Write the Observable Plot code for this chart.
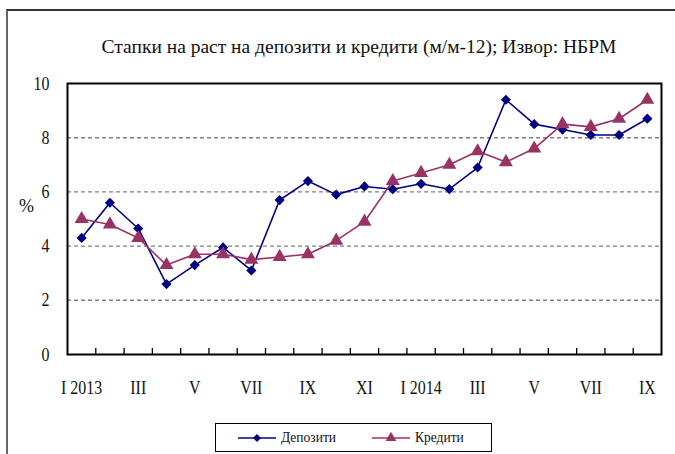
<!DOCTYPE html>
<html><head><meta charset="utf-8">
<script src="https://cdn.jsdelivr.net/npm/d3@7"></script>
<script src="https://cdn.jsdelivr.net/npm/@observablehq/plot@0.6"></script>
<style>
body{margin:0;background:#fff;}
#wrap{position:relative;width:675px;height:454px;font-family:"Liberation Serif",serif;overflow:hidden;background:#fff;}
#frame{position:absolute;left:6px;top:9px;width:700px;height:500px;border-top:2px solid #333;border-left:2px solid #666;}
#title{position:absolute;left:0;width:718px;top:36px;text-align:center;font-size:19.5px;color:#111;white-space:nowrap;}
#pct{position:absolute;left:19px;top:196px;font-size:18px;color:#111;}
#legend{position:absolute;left:215px;top:423px;width:275px;height:27px;border:1.5px solid #000;background:#fff;display:flex;align-items:center;justify-content:center;gap:30px;font-size:15px;color:#111;}
#legend .it{display:flex;align-items:center;gap:3px;}
#chart{position:absolute;left:0;top:0;}
#chart svg, #chart svg text{font-family:"Liberation Serif",serif;}
</style></head><body><div id="wrap"><div id="frame"></div><div id="chart"></div><div id="title"></div><div id="pct">%</div><div id="legend"></div></div>
<script>
const title = "Стапки на раст на депозити и кредити (м/м-12); Извор: НБРМ";
const months = ["I 2013","II","III","IV","V","VI","VII","VIII","IX","X","XI","XII","I 2014","II","III","IV","V","VI","VII","VIII","IX"];
const deposits = [4.3,5.6,4.65,2.6,3.3,3.95,3.1,5.7,6.4,5.9,6.2,6.1,6.3,6.1,6.9,9.4,8.5,8.3,8.1,8.1,8.7];
const credits  = [5.0,4.8,4.3,3.3,3.7,3.7,3.5,3.6,3.7,4.2,4.9,6.4,6.7,7.0,7.5,7.1,7.6,8.5,8.4,8.7,9.4];
const yTicks = [0,2,4,6,8,10];
const gridValues = [2,4,6,8];
const seriesNames = ["Депозити","Кредити"];
const seriesColors = ["#000080","#993366"];

document.getElementById("title").textContent = title;

const depData = deposits.map((v,i)=>({i,v}));
const credData = credits.map((v,i)=>({i,v}));
const labelIdx = months.map((m,i)=>i).filter(i=>i%2===0);
const boundaries = months.slice(1).map((m,i)=>i+0.5);

const chart = Plot.plot({
  width:675, height:454,
  marginLeft:67, marginRight:14, marginTop:83, marginBottom:100,
  style:{fontFamily:'"Liberation Serif", serif', fontSize:"19px", color:"#111", background:"transparent", overflow:"visible"},
  x:{domain:[-0.5, months.length-0.5]},
  y:{domain:[0,10]},
  marks:[
    Plot.ruleY(gridValues,{stroke:"#808080",strokeDasharray:"4,3",strokeWidth:1.4}),
    Plot.axisY({ticks:yTicks,tickSize:0,tickPadding:18,label:null}),
    Plot.axisX({ticks:labelIdx,tickFormat:i=>months[i],tickSize:0,tickPadding:26,label:null}),
    Plot.axisX({ticks:boundaries,tickSize:6,dy:-6,tickFormat:()=>"",label:null,stroke:"#000",strokeWidth:1.3}),
    Plot.frame({stroke:"#000",strokeWidth:2}),
    Plot.line(depData,{x:"i",y:"v",stroke:seriesColors[0],strokeWidth:1.6}),
    Plot.dot(depData,{x:"i",y:"v",symbol:"diamond2",fill:seriesColors[0],r:4.6}),
    Plot.line(credData,{x:"i",y:"v",stroke:seriesColors[1],strokeWidth:1.6}),
    Plot.dot(credData,{x:"i",y:"v",symbol:"triangle",fill:seriesColors[1],r:5.2})
  ]
});
document.getElementById("chart").appendChild(chart);
// condense axis tick labels like the reference's narrow serif face
d3.select(chart).selectAll("g[aria-label='y-axis tick label'] text, g[aria-label='x-axis tick label'] text").each(function(){
  const t = this.getAttribute("transform") || "";
  this.setAttribute("transform", t + " scale(0.84,1)");
});

const legend = document.getElementById("legend");
const symbols = [d3.symbolDiamond2, d3.symbolTriangle];
seriesNames.forEach((name,k)=>{
  const it = document.createElement("div"); it.className="it";
  const s = d3.create("svg").attr("width",40).attr("height",12);
  s.append("line").attr("x1",0).attr("x2",38).attr("y1",6).attr("y2",6).attr("stroke",seriesColors[k]).attr("stroke-width",1.6);
  s.append("path").attr("d",d3.symbol(symbols[k], k===0?40:50)()).attr("transform","translate(19,6)").attr("fill",seriesColors[k]);
  it.appendChild(s.node());
  const t = document.createElement("span"); t.textContent=name; t.style.display="inline-block"; t.style.transform="scaleX(0.9)"; t.style.transformOrigin="left center"; it.appendChild(t);
  legend.appendChild(it);
});
</script></body></html>
